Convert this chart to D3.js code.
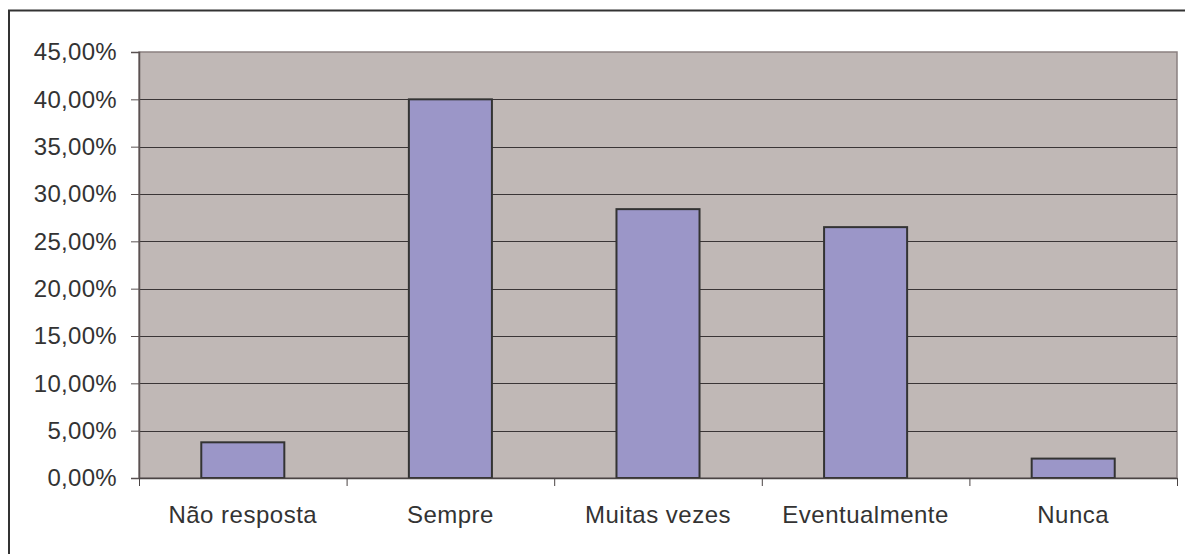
<!DOCTYPE html>
<html>
<head>
<meta charset="utf-8">
<script src="https://cdn.jsdelivr.net/npm/d3@7"></script>
<style>
  html, body { margin: 0; padding: 0; background: #ffffff; }
  svg { display: block; }
  text { font-family: "Liberation Sans", Arial, sans-serif; fill: #333333; }
</style>
</head>
<body>
<svg id="chart" width="1185" height="554"></svg>
<script>
const categories = ["Não resposta", "Sempre", "Muitas vezes", "Eventualmente", "Nunca"];
const values = [3.77, 40.0, 28.4, 26.5, 2.05];
const yTicks = [0, 5, 10, 15, 20, 25, 30, 35, 40, 45];

const svg = d3.select("#chart");
const W = 1185, H = 554;
const plot = { left: 139, top: 52, right: 1177, bottom: 478 };

// outer chart frame (extends past the visible area)
svg.append("rect")
  .attr("x", 9).attr("y", 10.5)
  .attr("width", W + 20).attr("height", H + 20)
  .attr("fill", "#ffffff")
  .attr("stroke", "#333333").attr("stroke-width", 2);

const x = d3.scaleBand().domain(categories).range([plot.left, plot.right]).paddingInner(0.6).paddingOuter(0.3);
const xEdges = d3.scaleLinear().domain([0, categories.length]).range([plot.left, plot.right]);
const y = d3.scaleLinear().domain([0, 45]).range([plot.bottom, plot.top]);

// plot background
svg.append("rect")
  .attr("x", plot.left).attr("y", plot.top)
  .attr("width", plot.right - plot.left).attr("height", plot.bottom - plot.top)
  .attr("fill", "#c0b8b6")
  .attr("stroke", "#8a8080").attr("stroke-width", 1.5);

// gridlines
svg.append("g").selectAll("line").data(yTicks.filter(t => t > 0 && t < 45)).join("line")
  .attr("x1", plot.left).attr("x2", plot.right)
  .attr("y1", d => Math.round(y(d)) + 0.5).attr("y2", d => Math.round(y(d)) + 0.5)
  .attr("stroke", "#3a3536").attr("stroke-width", 1);

// bars
svg.append("g").selectAll("rect").data(values).join("rect")
  .attr("x", (d, i) => x(categories[i]))
  .attr("y", d => y(d))
  .attr("width", x.bandwidth())
  .attr("height", d => y(0) - y(d))
  .attr("fill", "#9b96c8")
  .attr("stroke", "#333333").attr("stroke-width", 2);

// y axis
const fmt = d => d.toFixed(2).replace(".", ",") + "%";
const yAxis = d3.axisLeft(y).tickValues(yTicks).tickFormat(fmt).tickSize(8).tickPadding(14);
const gy = svg.append("g").attr("transform", `translate(${plot.left},0)`).call(yAxis);
gy.select(".domain").attr("stroke", "#5a5252").attr("stroke-width", 1.5);
gy.selectAll(".tick line").attr("stroke", "#5a5252");
gy.selectAll(".tick text").attr("font-size", 24).attr("fill", "#333333")
  .attr("letter-spacing", 0.3)
  .attr("font-family", "'Liberation Sans', Arial, sans-serif");

// x axis
const xAxis = d3.axisBottom(xEdges).tickValues(d3.range(0, categories.length + 1)).tickFormat("").tickSize(8).tickSizeOuter(0);
const gx = svg.append("g").attr("transform", `translate(0,${plot.bottom})`).call(xAxis);
gx.select(".domain").attr("stroke", "#4a4444").attr("stroke-width", 1.5);
gx.selectAll(".tick line").attr("stroke", "#4a4444");

svg.append("g").selectAll("text").data(categories).join("text")
  .attr("x", d => x(d) + x.bandwidth() / 2)
  .attr("y", 523)
  .attr("text-anchor", "middle")
  .attr("font-size", 24)
  .attr("letter-spacing", 0.5)
  .text(d => d);
</script>
</body>
</html>
